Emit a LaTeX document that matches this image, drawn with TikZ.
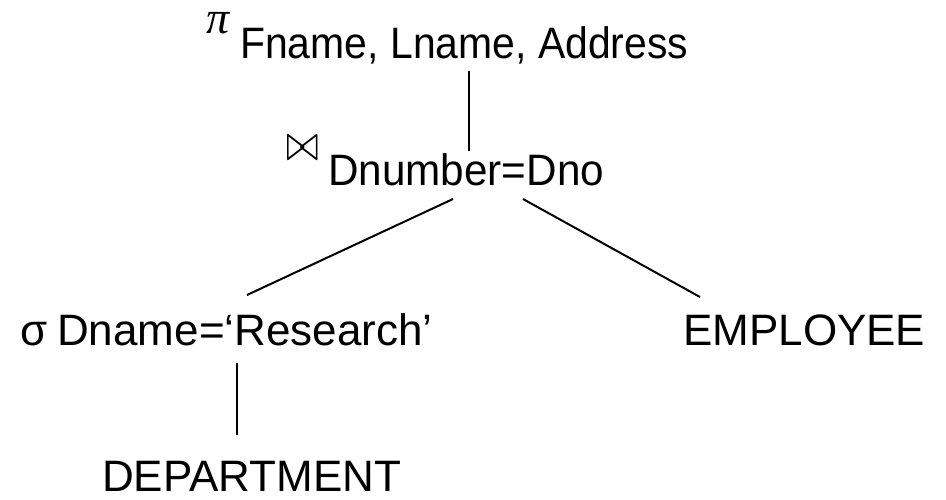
\documentclass[tikz,border=0pt]{standalone}
\usepackage{fontspec}
\usepackage{graphicx}
\setmainfont{Liberation Sans}
\newfontfamily\greekserif{Liberation Serif}
\usetikzlibrary{calc}
\begin{document}
\begin{tikzpicture}[x=1pt,y=-1pt,
  lbl/.style={inner sep=0pt, anchor=base west, font=\fontsize{44}{50}\selectfont},
  sym/.style={inner sep=0pt, anchor=base west},
  edge/.style={line width=2pt, line cap=butt}]
\useasboundingbox (0,0) rectangle (946,499);

% projection
\node[sym] (pi) at (206,33) {\fontsize{46}{50}\greekserif\itshape π};
\node[lbl] (proj) at (240,58) {\scalebox{0.93}[1]{Fname, Lname, Address}};

% join
\node[sym] (bow) at (286,160) {\normalsize\scalebox{3.9}[5.2]{$\bowtie$}};
\node[lbl] (join) at (328,185) {\scalebox{0.96}[1]{Dnumber=Dno}};

% selection
\node[lbl] (sig) at (20,345) {σ};
\node[lbl] (sel) at (57,345) {Dname=‘Research’};

% relations
\node[lbl] (emp) at (683,345) {EMPLOYEE};
\node[lbl] (dept) at (102,491) {DEPARTMENT};

% tree edges
\draw[edge] ([shift={(229,13)}]proj.base west) -- ([shift={(141,-34)}]join.base west);
\draw[edge] ([shift={(125,14)}]join.base west) -- ([shift={(190,-50)}]sel.base west);
\draw[edge] ([shift={(195,14)}]join.base west) -- ([shift={(17,-48)}]emp.base west);
\draw[edge] ([shift={(180,18)}]sel.base west) -- ([shift={(135,-56)}]dept.base west);
\end{tikzpicture}
\end{document}
